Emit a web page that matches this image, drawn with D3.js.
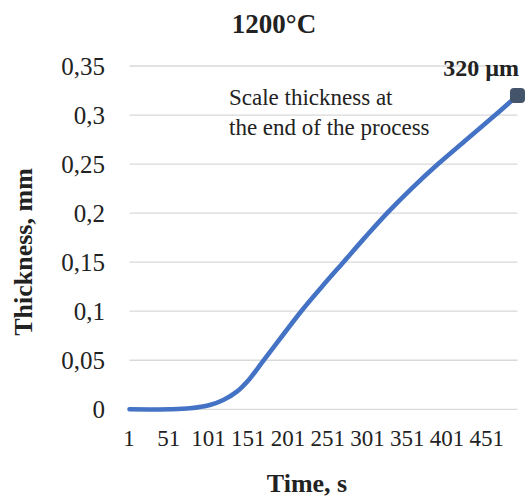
<!DOCTYPE html>
<html><head><meta charset="utf-8">
<script src="https://cdn.jsdelivr.net/npm/d3@7"></script>
<style>body{margin:0;background:#fff}svg{display:block}text{font-family:"Liberation Serif","Times New Roman",serif;fill:#222}</style>
</head><body><svg id="c" width="531" height="501"></svg>
<script>
// Data
const times =     [1, 52, 77, 102, 119, 136, 152, 168, 190, 217, 243, 270, 297, 325, 357, 389, 425, 461, 489];
const thickness = [0, 0, 0.001, 0.0044, 0.0095, 0.018, 0.031, 0.048, 0.0715, 0.1, 0.125, 0.15, 0.175, 0.2, 0.226, 0.25, 0.275, 0.30, 0.32];
const xTicks = [1, 51, 101, 151, 201, 251, 301, 351, 401, 451];
const yTicks = [0, 0.05, 0.1, 0.15, 0.2, 0.25, 0.3, 0.35];
const title = "1200°C";
const endLabel = "320 µm";
const note = ["Scale thickness at", "the end of the process"];

const svg = d3.select("#c");
const m = {l:129.5, r:517.5, t:66, b:409.3};
const x = d3.scaleLinear().domain([1, 489]).range([m.l, m.r]);
const y = d3.scaleLinear().domain([0, 0.35]).range([m.b, m.t]);

// gridlines
svg.append("g").selectAll("line").data(yTicks).join("line")
  .attr("x1", m.l).attr("x2", m.r)
  .attr("y1", d => y(d)).attr("y2", d => y(d))
  .attr("stroke", "#d9d9d9").attr("stroke-width", 1.3);

// y axis labels
const fmt = d => String(+d.toFixed(2)).replace(".", ",");
const yAxis = d3.axisLeft(y).tickValues(yTicks).tickFormat(fmt).tickSize(0).tickPadding(0);
const ya = svg.append("g").attr("transform", `translate(105,0)`).call(yAxis);
ya.select(".domain").remove();
ya.selectAll("text").attr("font-size", 25).attr("font-family", "Liberation Serif").attr("fill", "#222").attr("dy", "0.32em");

// x axis labels
const xAxis = d3.axisBottom(x).tickValues(xTicks).tickFormat(d => d).tickSize(0).tickPadding(0);
const xa = svg.append("g").attr("transform", `translate(-1,${m.b})`).call(xAxis);
xa.select(".domain").remove();
xa.selectAll("text").attr("font-size", 23).attr("font-family", "Liberation Serif").attr("fill", "#222").attr("dy", null).attr("y", 37);

// line
const pts = times.map((t, i) => [t, thickness[i]]);
svg.append("path").datum(pts)
  .attr("d", d3.line().x(d => x(d[0])).y(d => y(d[1])).curve(d3.curveCatmullRom.alpha(0.5)))
  .attr("fill", "none").attr("stroke", "#4472c4").attr("stroke-width", 4.6).attr("stroke-linecap", "round");

// end marker
const last = pts[pts.length - 1];
svg.append("rect")
  .attr("x", x(last[0]) - 7.5).attr("y", y(last[1]) - 7.5)
  .attr("width", 15).attr("height", 15).attr("rx", 4)
  .attr("fill", "#44546a");

// texts
svg.append("text").attr("x", 274).attr("y", 33).attr("text-anchor", "middle")
  .attr("font-size", 27).attr("font-weight", "bold").text(title);
svg.append("text").attr("x", 519).attr("y", 76).attr("text-anchor", "end")
  .attr("font-size", 24).attr("font-weight", "bold").text(endLabel);
svg.append("g").selectAll("text").data(note).join("text")
  .attr("x", 229).attr("y", (d, i) => 105 + i * 30)
  .attr("font-size", 23).text(d => d);
svg.append("text").attr("x", 307).attr("y", 492).attr("text-anchor", "middle")
  .attr("font-size", 26).attr("font-weight", "bold").text("Time, s");
svg.append("text").attr("transform", "translate(32,252) rotate(-90)").attr("text-anchor", "middle")
  .attr("font-size", 26).attr("font-weight", "bold").text("Thickness, mm");
</script></body></html>
